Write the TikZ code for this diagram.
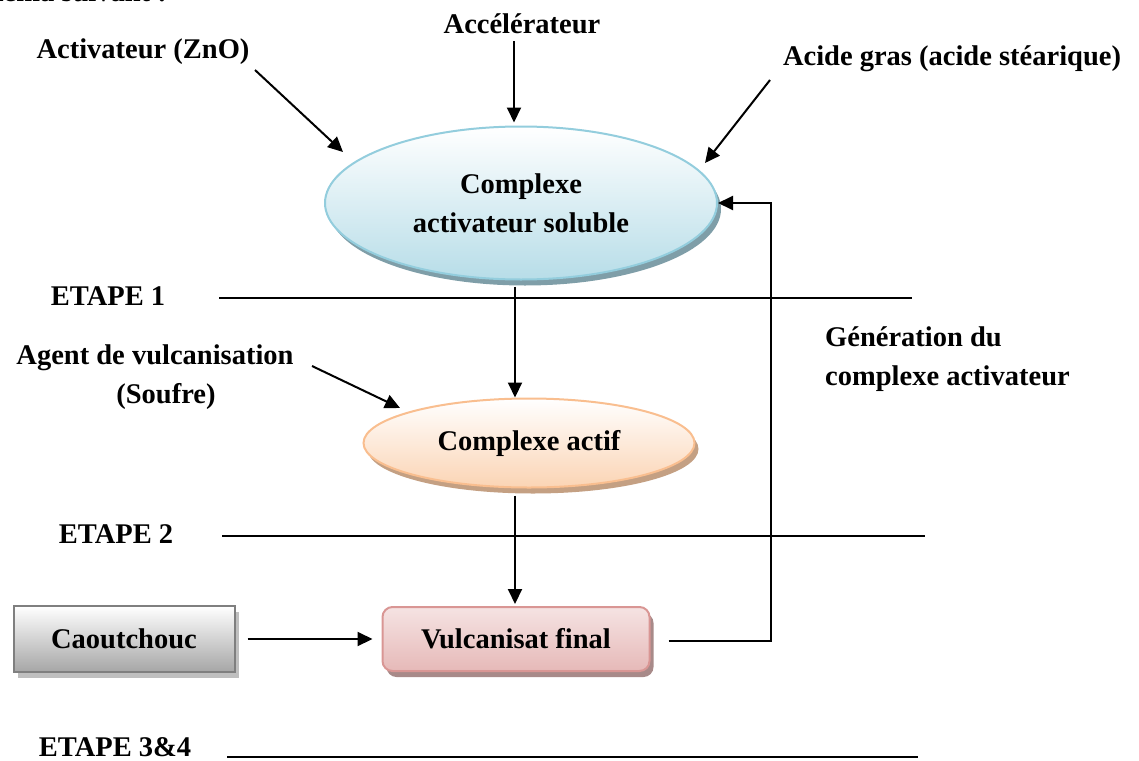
\documentclass[tikz,border=0pt]{standalone}
\usepackage{fontspec}
\setmainfont{Liberation Serif}
\usetikzlibrary{arrows.meta,shapes.geometric,shadows}

\definecolor{bleuB}{HTML}{93CDDD}
\definecolor{bleuF}{HTML}{B7DDE8}
\definecolor{bleuS}{HTML}{7F9EA8}
\definecolor{pecheB}{HTML}{F9BE8F}
\definecolor{pecheF}{HTML}{FBD4B4}
\definecolor{pecheS}{HTML}{C4A083}
\definecolor{roseB}{HTML}{D99694}
\definecolor{roseF}{HTML}{E6B9B8}
\definecolor{roseS}{HTML}{A88A89}
\definecolor{grisB}{HTML}{7F7F7F}

\begin{document}
\begin{tikzpicture}[x=1pt, y=-1pt,
  font=\fontsize{28.5}{39}\selectfont\bfseries,
  lbl/.style={align=center, inner sep=1pt},
  ar/.style={-{Triangle[length=15pt,width=14pt]}, line width=2pt},
  ln/.style={line width=1.4pt},
  blob/.style={ellipse, line width=2pt, align=center, inner sep=0pt,
               drop shadow={shadow xshift=4pt, shadow yshift=-6pt, fill=#1, opacity=1}},
  boite/.style={draw, line width=2pt, inner sep=0pt,
                drop shadow={shadow xshift=4pt, shadow yshift=-6pt, fill=#1, opacity=1}},
]
\useasboundingbox (0,0) rectangle (1139,760);
\clip (0,0) rectangle (1139,760);

% texte coupe en haut
\node[lbl, anchor=base east] (haut) at (168,1.5) {schéma suivant :};

% etape 1
\node[lbl] (act) at (143,52) {Activateur (ZnO)};
\node[lbl] (acc) at (522,24) {Accélérateur};
\node[lbl] (acg) at (952,59) {Acide gras (acide stéarique)};

\node[blob=bleuS, draw=bleuB, top color=white, bottom color=bleuF,
      minimum width=392pt, minimum height=153pt] (cas) at (521,203) {Complexe\\activateur soluble};

\coordinate (dAct) at (255,70);
\coordinate (fAct) at (343,152);
\coordinate (dAcg) at (770,80);
\coordinate (fAcg) at (705,163);
\draw[ar] (dAct) -- (fAct);
\draw[ar, shorten <=6pt, shorten >=3pt] ([xshift=-8pt]acc.south) -- ([xshift=-7pt]cas.north);
\draw[ar] (dAcg) -- (fAcg);

% etape 2
\node[lbl] (agt) at (155,377) {Agent de vulcanisation\\\hspace*{22pt}(Soufre)};
\node[blob=pecheS, draw=pecheB, top color=white, bottom color=pecheF,
      minimum width=331pt, minimum height=89pt] (ca) at (529,443) {Complexe actif};

\coordinate (dAgt) at (312,366);
\coordinate (fAgt) at (400,408);
\draw[ar] (dAgt) -- (fAgt);
\draw[ar, shorten <=6pt] ([xshift=-6pt]cas.south) -- ([xshift=-14pt]ca.north);

% etape 3&4
\node[boite=grisB!50, draw=grisB, top color=white, bottom color=black!35,
      minimum width=221pt, minimum height=66pt] (cc) at (124,639) {Caoutchouc};
\node[boite=roseS, draw=roseB, rounded corners=10pt, top color=roseF!40, bottom color=roseF,
      minimum width=267pt, minimum height=64pt] (vf) at (516,639) {Vulcanisat final};

\draw[ar, shorten >=9pt, shorten <=12pt] (cc) -- (vf);
\draw[ar, shorten <=7pt, shorten >=2pt] ([xshift=-14pt]ca.south) -- ([xshift=-1pt]vf.north);
\draw[ar] ([xshift=18pt, yshift=-2pt]vf.east) -| ([xshift=53pt]cas.east) -- (cas.east);

\node[lbl, align=left, anchor=west] (gen) at (824,359) {Génération du\\complexe activateur};

% separations
\node[lbl] (e1) at (108,296) {ETAPE 1};
\node[lbl] (e2) at (116,534) {ETAPE 2};
\node[lbl] (e3) at (115,747) {ETAPE 3\&4};
\foreach \y/\a/\b in {298/219/912, 536/222/925, 757/227/918}
  \draw[ln] (\a,\y) -- (\b,\y);
\end{tikzpicture}
\end{document}
